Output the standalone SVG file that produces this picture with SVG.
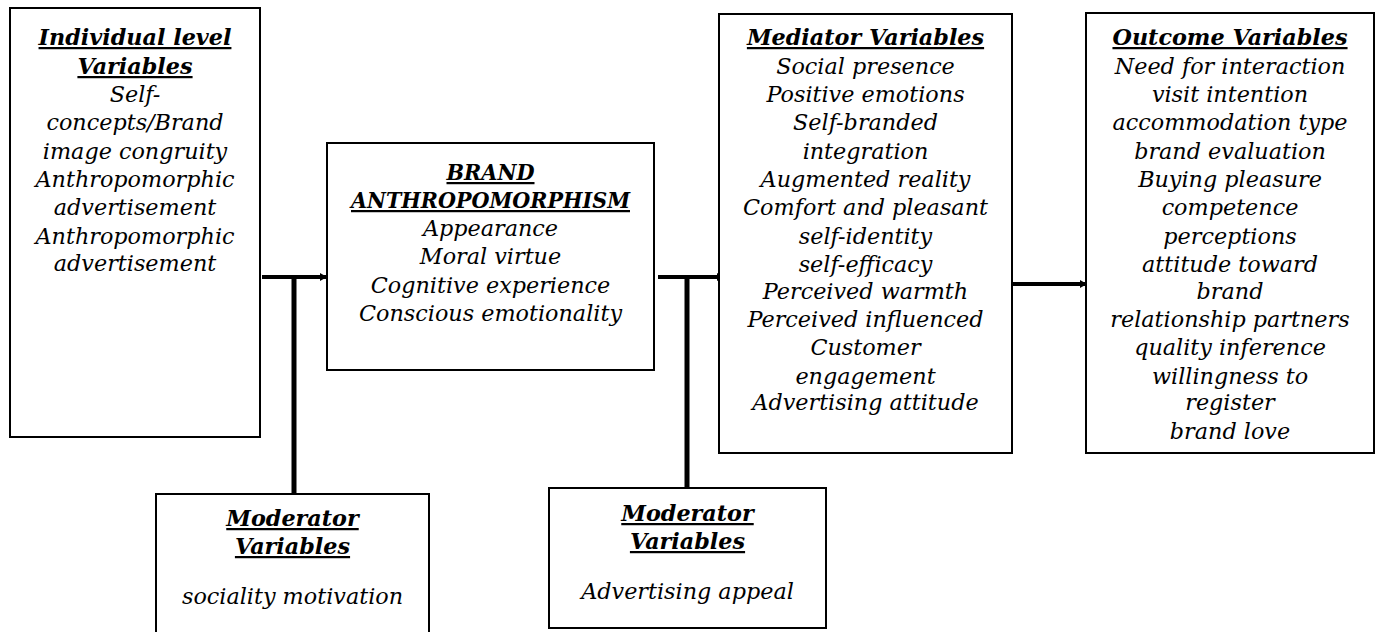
<svg xmlns="http://www.w3.org/2000/svg" width="1378" height="632" viewBox="0 0 1378 632">
<defs>
<style>
.box{fill:#fff;stroke:#000;stroke-width:2}
.t{font-family:"DejaVu Serif","Liberation Serif",serif;font-style:italic;font-size:22.3px;text-anchor:middle;fill:#000}
.h{font-weight:bold;text-decoration:underline}
.c{stroke:#000;stroke-width:4;fill:none}
.v{stroke:#000;stroke-width:5;fill:none}
</style>
<marker id="ah" markerUnits="userSpaceOnUse" markerWidth="8" markerHeight="10" refX="7" refY="5" orient="auto">
<path d="M0,1 L7,5 L0,9 Z" fill="#000"/>
</marker>
</defs>
<rect width="1378" height="632" fill="#fff"/>
<g id="connectors">
<line class="c" x1="262" y1="277" x2="327" y2="277" marker-end="url(#ah)"/>
<line class="v" x1="294" y1="494" x2="294" y2="279"/>
<line class="c" x1="658" y1="277" x2="724" y2="277" marker-end="url(#ah)"/>
<line class="v" x1="687" y1="488" x2="687" y2="279"/>
<line class="c" x1="1012" y1="284" x2="1087" y2="284" marker-end="url(#ah)"/>
</g>
<g id="individual">
<rect class="box" x="10" y="8" width="250" height="429"/>
<text class="t h" x="135" y="45">Individual level</text>
<text class="t h" x="135" y="74">Variables</text>
<text class="t" x="135" y="102">Self-</text>
<text class="t" x="135" y="130">concepts/Brand</text>
<text class="t" x="135" y="159">image congruity</text>
<text class="t" x="135" y="187">Anthropomorphic</text>
<text class="t" x="135" y="215">advertisement</text>
<text class="t" x="135" y="244">Anthropomorphic</text>
<text class="t" x="135" y="271">advertisement</text>
</g>
<g id="brand">
<rect class="box" x="327" y="143" width="327" height="227"/>
<text class="t h" x="490.5" y="180" textLength="88" lengthAdjust="spacingAndGlyphs">BRAND</text>
<text class="t h" x="490.5" y="208" textLength="279" lengthAdjust="spacingAndGlyphs">ANTHROPOMORPHISM</text>
<text class="t" x="490.5" y="236">Appearance</text>
<text class="t" x="490.5" y="264">Moral virtue</text>
<text class="t" x="490.5" y="293">Cognitive experience</text>
<text class="t" x="490.5" y="321">Conscious emotionality</text>
</g>
<g id="mediator">
<rect class="box" x="719" y="14" width="293" height="439"/>
<text class="t h" x="865.5" y="45">Mediator Variables</text>
<text class="t" x="865.5" y="74">Social presence</text>
<text class="t" x="865.5" y="102">Positive emotions</text>
<text class="t" x="865.5" y="130">Self-branded</text>
<text class="t" x="865.5" y="159">integration</text>
<text class="t" x="865.5" y="187">Augmented reality</text>
<text class="t" x="865.5" y="215">Comfort and pleasant</text>
<text class="t" x="865.5" y="244">self-identity</text>
<text class="t" x="865.5" y="272">self-efficacy</text>
<text class="t" x="865.5" y="299">Perceived warmth</text>
<text class="t" x="865.5" y="327">Perceived influenced</text>
<text class="t" x="865.5" y="355">Customer</text>
<text class="t" x="865.5" y="384">engagement</text>
<text class="t" x="865.5" y="410">Advertising attitude</text>
</g>
<g id="outcome">
<rect class="box" x="1086" y="13" width="288" height="440"/>
<text class="t h" x="1230" y="45">Outcome Variables</text>
<text class="t" x="1230" y="74">Need for interaction</text>
<text class="t" x="1230" y="102">visit intention</text>
<text class="t" x="1230" y="130">accommodation type</text>
<text class="t" x="1230" y="159">brand evaluation</text>
<text class="t" x="1230" y="187">Buying pleasure</text>
<text class="t" x="1230" y="215">competence</text>
<text class="t" x="1230" y="244">perceptions</text>
<text class="t" x="1230" y="272">attitude toward</text>
<text class="t" x="1230" y="299">brand</text>
<text class="t" x="1230" y="327">relationship partners</text>
<text class="t" x="1230" y="355">quality inference</text>
<text class="t" x="1230" y="384">willingness to</text>
<text class="t" x="1230" y="410">register</text>
<text class="t" x="1230" y="439">brand love</text>
</g>
<g id="moderator1">
<rect class="box" x="156" y="494" width="273" height="150"/>
<text class="t h" x="292.5" y="526">Moderator</text>
<text class="t h" x="292.5" y="554">Variables</text>
<text class="t" x="292.5" y="604">sociality motivation</text>
</g>
<g id="moderator2">
<rect class="box" x="549" y="488" width="277" height="140"/>
<text class="t h" x="687.5" y="521">Moderator</text>
<text class="t h" x="687.5" y="549">Variables</text>
<text class="t" x="687.5" y="599">Advertising appeal</text>
</g>
</svg>
